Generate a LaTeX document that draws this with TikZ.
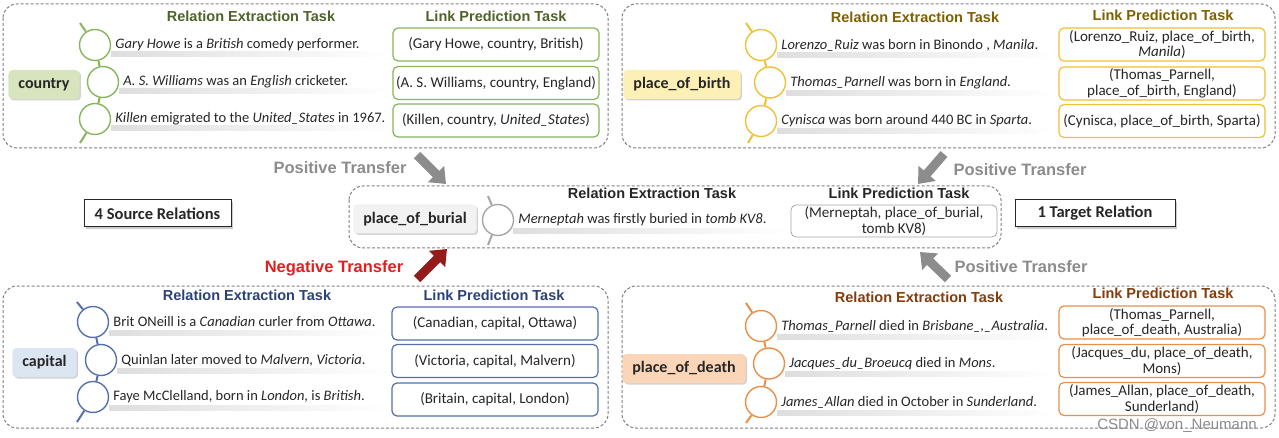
\documentclass[tikz,border=0pt]{standalone}
\usepackage{fontspec}
\setmainfont{Carlito}
\newfontfamily\hdfont{Liberation Sans}
\usetikzlibrary{positioning,shadows,arrows.meta}
\definecolor{PanelLine}{HTML}{7F7F7F}
\definecolor{CtryLine}{HTML}{86B55A}
\definecolor{CtryPale}{HTML}{D7E4BD}
\definecolor{CtryText}{HTML}{4F6228}
\definecolor{BirthLine}{HTML}{F0C035}
\definecolor{BirthPale}{HTML}{FDF0B6}
\definecolor{BirthText}{HTML}{7F6000}
\definecolor{CapLine}{HTML}{5470AC}
\definecolor{CapPale}{HTML}{DCE6F2}
\definecolor{CapText}{HTML}{2C4277}
\definecolor{DeathLine}{HTML}{E8904A}
\definecolor{DeathPale}{HTML}{FAD5B8}
\definecolor{DeathText}{HTML}{843C0C}
\definecolor{BurialLine}{HTML}{A6A6A6}
\definecolor{BurialPale}{HTML}{F2F2F2}
\definecolor{PosGray}{HTML}{8C8C8C}
\definecolor{NegRed}{HTML}{E02020}
\definecolor{NegDark}{HTML}{951B1B}

\begin{document}
\begin{tikzpicture}[x=1pt,y=-1pt,node distance=4pt]
  \tikzstyle{panel}=[draw=PanelLine,densely dashed,rounded corners=14pt,line width=1pt]
  \tikzstyle{head}=[font=\hdfont\bfseries\fontsize{14.5}{16}\selectfont]
  \tikzstyle{rel}=[rounded corners=4pt,minimum height=29pt,inner xsep=10pt,
    text=black!85,font=\bfseries\fontsize{16}{18}\selectfont,
    drop shadow={shadow xshift=1.5pt,shadow yshift=-1.5pt,opacity=0.35}]
  \tikzstyle{bead}=[circle,minimum size=31pt,inner sep=0pt,line width=1.4pt,fill=white]
  \tikzstyle{spine}=[line width=2pt]
  \tikzstyle{sent}=[right=4pt,anchor=west,inner sep=0pt,text=black!85,
    font=\fontsize{14.5}{16}\selectfont]
  \tikzstyle{triple}=[draw,fill=white,rounded corners=5pt,line width=1.2pt,
    minimum width=206pt,minimum height=33pt,align=center,inner sep=1pt,
    text=black!85,font=\fontsize{15}{15.5}\selectfont]
  \tikzstyle{band}=[left color=black!13,right color=white]
  \tikzstyle{summary}=[draw=black!85,line width=1pt,fill=white,minimum height=27pt,
    text=black!85,font=\bfseries\fontsize{16.5}{18}\selectfont,
    drop shadow={shadow xshift=2pt,shadow yshift=-2pt,opacity=0.4}]
  \tikzstyle{transfer}=[font=\hdfont\bfseries\fontsize{16.5}{18}\selectfont]
  \tikzstyle{bigarrow}=[line width=9pt,-{Triangle[length=14pt,width=22pt]}]

  % country
  \draw[panel] (3,4) rectangle (608,148);
  \node[head,text=CtryText] (ctryre) at (251,16) {Relation Extraction Task};
  \node[head,text=CtryText] (ctrylp) at (496,16) {Link Prediction Task};
  \node[rel,fill=CtryPale] (ctry) at (44,84.5) {country};
  \shade[band] (111,52) rectangle (391,57);
  \shade[band] (119,89) rectangle (391,94);
  \shade[band] (111,126) rectangle (391,131);
  \node[bead,draw=CtryLine] (c11) at (95,45) {};
  \node[bead,draw=CtryLine] (c12) at (103,82) {};
  \node[bead,draw=CtryLine] (c13) at (95,119) {};
  \coordinate (ctrytop) at (80,23);
  \coordinate (ctrybot) at (80,143);
  \draw[spine,draw=CtryLine] (ctrytop)--(c11)--(c12)--(c13)--(ctrybot);
  \node[sent,right=of c11] (s11) {\textit{Gary Howe} is a \textit{British} comedy performer.};
  \node[sent,right=of c12] (s12) {\textit{A. S. Williams} was an \textit{English} cricketer.};
  \node[sent,right=of c13] (s13) {\textit{Killen} emigrated to the \textit{United\_States} in 1967.};
  \node[triple,draw=CtryLine] (t11) at (496,44.5) {(Gary Howe, country, British)};
  \node[triple,draw=CtryLine] (t12) at (496,83) {(A. S. Williams, country, England)};
  \node[triple,draw=CtryLine] (t13) at (496,120.5) {(Killen, country, \textit{United\_States})};

  % place_of_birth
  \draw[panel] (622,4) rectangle (1275,148);
  \node[head,text=BirthText] (birthre) at (915,17) {Relation Extraction Task};
  \node[head,text=BirthText] (birthlp) at (1163,15) {Link Prediction Task};
  \node[rel,fill=BirthPale] (birth) at (682,84.5) {place\_of\_birth};
  \shade[band] (777,53) rectangle (1057,58);
  \shade[band] (786,91) rectangle (1057,96);
  \shade[band] (777,129) rectangle (1057,134);
  \node[bead,draw=BirthLine] (c21) at (761,45) {};
  \node[bead,draw=BirthLine] (c22) at (770,82.5) {};
  \node[bead,draw=BirthLine] (c23) at (761,121) {};
  \coordinate (birthtop) at (746,23);
  \coordinate (birthbot) at (748,143);
  \draw[spine,draw=BirthLine] (birthtop)--(c21)--(c22)--(c23)--(birthbot);
  \node[sent,right=of c21] (s21) {\textit{Lorenzo\_Ruiz} was born in Binondo , \textit{Manila}.};
  \node[sent,right=of c22] (s22) {\textit{Thomas\_Parnell} was born in \textit{England}.};
  \node[sent,right=of c23] (s23) {\textit{Cynisca} was born around 440 BC in \textit{Sparta}.};
  \node[triple,draw=BirthLine] (t21) at (1162,44.5) {(Lorenzo\_Ruiz, place\_of\_birth,\\\textit{Manila})};
  \node[triple,draw=BirthLine] (t22) at (1162,83.5) {(Thomas\_Parnell,\\place\_of\_birth, England)};
  \node[triple,draw=BirthLine] (t23) at (1162,121) {(Cynisca, place\_of\_birth, Sparta)};

  % place_of_burial
  \draw[panel] (349,186) rectangle (1001,248);
  \node[head,text=black!85] (burialre) at (652,193) {Relation Extraction Task};
  \node[head,text=black!85] (buriallp) at (899,193) {Link Prediction Task};
  \node[rel,fill=BurialPale] (burial) at (415,219) {place\_of\_burial};
  \shade[band] (513,229) rectangle (789,234);
  \node[bead,draw=BurialLine] (c0) at (498,220) {};
  \coordinate (burialtop) at (488,196);
  \coordinate (burialbot) at (488,245);
  \draw[spine,draw=BurialLine] (burialtop)--(c0)--(burialbot);
  \node[sent,right=of c0] (s0) {\textit{Merneptah} was firstly buried in \textit{tomb KV8}.};
  \node[triple,draw=BurialLine,line width=0.8pt,minimum height=32pt] (t0) at (894,221)
    {(Merneptah, place\_of\_burial,\\tomb KV8)};

  % capital
  \draw[panel] (3,286) rectangle (608,428);
  \node[head,text=CapText] (capre) at (247,295) {Relation Extraction Task};
  \node[head,text=CapText] (caplp) at (494,295) {Link Prediction Task};
  \node[rel,fill=CapPale] (cap) at (44.5,362.5) {capital};
  \shade[band] (109,330) rectangle (389,335);
  \shade[band] (117,368) rectangle (389,373);
  \shade[band] (109,405) rectangle (389,410);
  \node[bead,draw=CapLine] (c31) at (93,322) {};
  \node[bead,draw=CapLine] (c32) at (101,360) {};
  \node[bead,draw=CapLine] (c33) at (93,397) {};
  \coordinate (captop) at (77,302);
  \coordinate (capbot) at (77,422);
  \draw[spine,draw=CapLine] (captop)--(c31)--(c32)--(c33)--(capbot);
  \node[sent,right=of c31] (s31) {Brit ONeill is a \textit{Canadian} curler from \textit{Ottawa}.};
  \node[sent,right=of c32] (s32) {Quinlan later moved to \textit{Malvern, Victoria}.};
  \node[sent,right=of c33] (s33) {Faye McClelland, born in \textit{London,} is \textit{British}.};
  \node[triple,draw=CapLine] (t31) at (495,323.5) {(Canadian, capital, Ottawa)};
  \node[triple,draw=CapLine] (t32) at (495,361) {(Victoria, capital, Malvern)};
  \node[triple,draw=CapLine] (t33) at (495,399.5) {(Britain, capital, London)};

  % place_of_death
  \draw[panel] (622,286) rectangle (1275,428);
  \node[head,text=DeathText] (deathre) at (919,297) {Relation Extraction Task};
  \node[head,text=DeathText] (deathlp) at (1163,293) {Link Prediction Task};
  \node[rel,fill=DeathPale] (death) at (684,368.5) {place\_of\_death};
  \shade[band] (777,334) rectangle (1057,339);
  \shade[band] (785,371) rectangle (1057,376);
  \shade[band] (777,410) rectangle (1057,415);
  \node[bead,draw=DeathLine] (c41) at (761,326) {};
  \node[bead,draw=DeathLine] (c42) at (769,363.5) {};
  \node[bead,draw=DeathLine] (c43) at (761,402) {};
  \coordinate (deathtop) at (746,303);
  \coordinate (deathbot) at (746,423);
  \draw[spine,draw=DeathLine] (deathtop)--(c41)--(c42)--(c43)--(deathbot);
  \node[sent,right=of c41] (s41) {\textit{Thomas\_Parnell} died in \textit{Brisbane\_,\_Australia}.};
  \node[sent,right=of c42] (s42) {\textit{Jacques\_du\_Broeucq} died in \textit{Mons}.};
  \node[sent,right=of c43] (s43) {\textit{James\_Allan} died in October in \textit{Sunderland}.};
  \node[triple,draw=DeathLine] (t41) at (1162,322.5) {(Thomas\_Parnell,\\place\_of\_death, Australia)};
  \node[triple,draw=DeathLine] (t42) at (1162,361) {(Jacques\_du, place\_of\_death,\\Mons)};
  \node[triple,draw=DeathLine] (t43) at (1162,399) {(James\_Allan, place\_of\_death,\\Sunderland)};

  % relation counts
  \node[summary,minimum width=147pt] (src) at (157.5,213.5) {4 Source Relations};
  \node[summary,minimum width=160pt] (tgt) at (1095,213.5) {1 Target Relation};

  % transfers
  \coordinate (ctryfrom) at (417,155);
  \coordinate (ctryto) at (446,184);
  \coordinate (birthfrom) at (944,154);
  \coordinate (birthto) at (918,184);
  \coordinate (capfrom) at (417,279);
  \coordinate (capto) at (447,249);
  \coordinate (deathfrom) at (948,279);
  \coordinate (deathto) at (920,252);
  \draw[bigarrow,draw=PosGray] (ctryfrom)--(ctryto);
  \draw[bigarrow,draw=PosGray] (birthfrom)--(birthto);
  \draw[bigarrow,draw=NegDark] (capfrom)--(capto);
  \draw[bigarrow,draw=PosGray] (deathfrom)--(deathto);
  \node[transfer,text=PosGray] (ctrypt) at (340,168) {Positive Transfer};
  \node[transfer,text=PosGray] (birthpt) at (1020,170) {Positive Transfer};
  \node[transfer,text=NegRed] (capnt) at (334,268) {Negative Transfer};
  \node[transfer,text=PosGray] (deathpt) at (1021,267) {Positive Transfer};

  \node[font=\hdfont\fontsize{15}{17}\selectfont,text=black!45] (mark) at (1177,426) {CSDN @von\_Neumann};
  \useasboundingbox (0,0) rectangle (1279,438);
\end{tikzpicture}
\end{document}
